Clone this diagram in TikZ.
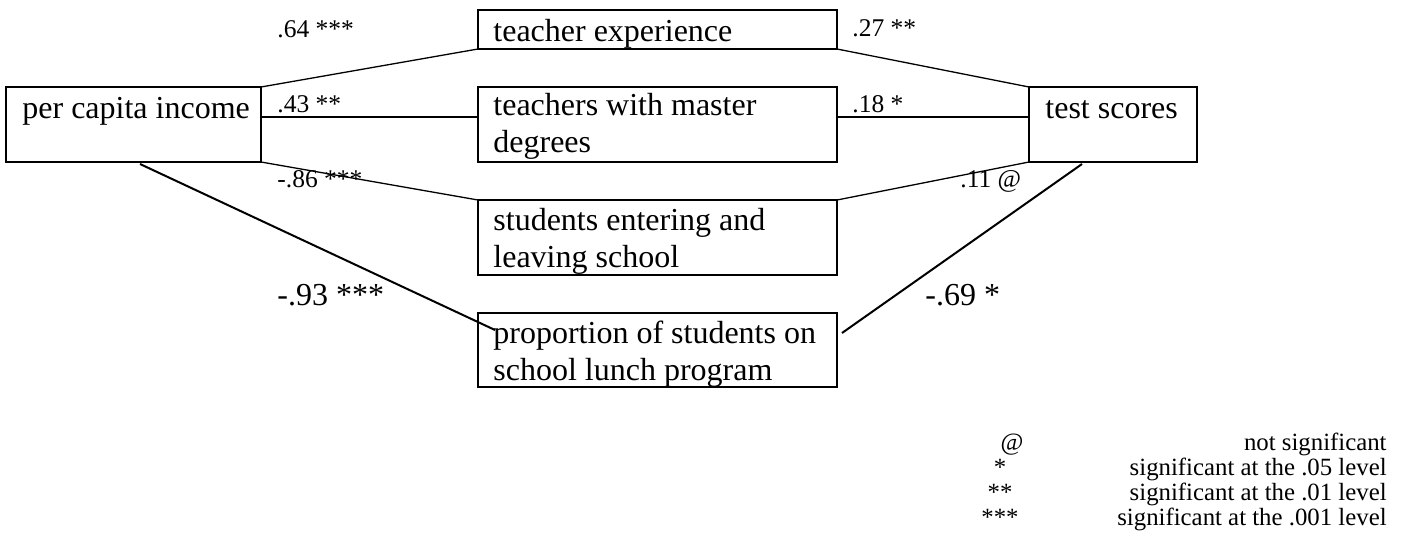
\documentclass[tikz,border=0pt]{standalone}
\usepackage{fontspec}
\setmainfont{Liberation Serif}
\usetikzlibrary{calc}
\begin{document}
\begin{tikzpicture}[x=0.5pt,y=-0.5pt,
  box/.style={draw,line width=1pt,rectangle,inner sep=0pt,outer sep=0pt,anchor=north west},
  txt/.style={anchor=base west,inner sep=0pt,font=\fontsize{16}{18}\selectfont},
  lab/.style={anchor=base west,inner sep=0pt,font=\fontsize{12.75}{14}\selectfont},
  biglab/.style={anchor=base west,inner sep=0pt,font=\fontsize{16}{18}\selectfont},
  leg/.style={inner sep=0pt,font=\fontsize{12.4}{14}\selectfont},
  conn/.style={line width=0.65pt},
  thickconn/.style={line width=1pt}]
\useasboundingbox (0,0) rectangle (1407,552);
% boxes
\node[box,minimum width=127.5pt,minimum height=37.5pt] (pci) at (6,87) {};
\node[box,minimum width=179.5pt,minimum height=19.5pt] (te) at (478,10) {};
\node[box,minimum width=179.5pt,minimum height=37.5pt] (tm) at (478,87) {};
\node[box,minimum width=84pt,minimum height=37.5pt] (ts) at (1029,87) {};
\node[box,minimum width=179.5pt,minimum height=37.5pt] (st) at (478,200) {};
\node[box,minimum width=179.5pt,minimum height=37pt] (pr) at (478,313) {};
% box texts
\node[txt] (t1) at (22,118) {per capita income};
\node[txt] (t2) at (493,41) {teacher experience};
\node[txt] (t3) at (493,115) {teachers with master};
\node[txt] (t3b) at (493,152) {degrees};
\node[txt] (t4) at (1045,118) {test scores};
\node[txt] (t5) at (493,230) {students entering and};
\node[txt] (t5b) at (493,267) {leaving school};
\node[txt] (t6) at (493,343) {proportion of students on};
\node[txt] (t6b) at (493,380) {school lunch program};
% connectors
\draw[conn] (pci.north east) -- (te.south west);
\draw[conn] ($(pci.north east)+(0,30)$) -- ($(tm.north west)+(0,30)$);
\draw[conn] (pci.south east) -- (st.north west);
\coordinate (a1) at (140,164);
\coordinate (a2) at (495,330);
\draw[thickconn] (a1) -- (a2);
\draw[conn] (te.south east) -- (ts.north west);
\draw[conn] ($(tm.north east)+(0,30)$) -- ($(ts.north west)+(0,30)$);
\draw[conn] (st.north east) -- (ts.south west);
\coordinate (b1) at (842,333);
\coordinate (b2) at (1082,164);
\draw[thickconn] (b1) -- (b2);
% path labels
\node[lab] (l1) at (277,37) {.64 ***};
\node[lab] (l2) at (852,36) {.27 **};
\node[lab] (l3) at (277,112) {.43 **};
\node[lab] (l4) at (852,112) {.18 *};
\node[lab] (l5) at (277,187) {-.86 ***};
\node[lab] (l6) at (960,187) {.11 @};
\node[biglab] (l7) at (277,305) {-.93 ***};
\node[biglab] (l8) at (925,305) {-.69 *};
% legend
\node[leg,anchor=base] (s1) at (1012,450) {@};
\node[leg,anchor=base] (s2) at (1000,475) {*};
\node[leg,anchor=base] (s3) at (1000,500) {**};
\node[leg,anchor=base] (s4) at (1000,525) {***};
\node[leg,anchor=base east] (d1) at (1387,450) {not significant};
\node[leg,anchor=base east] (d2) at (1387,475) {significant at the .05 level};
\node[leg,anchor=base east] (d3) at (1387,500) {significant at the .01 level};
\node[leg,anchor=base east] (d4) at (1387,525) {significant at the .001 level};
\end{tikzpicture}
\end{document}
